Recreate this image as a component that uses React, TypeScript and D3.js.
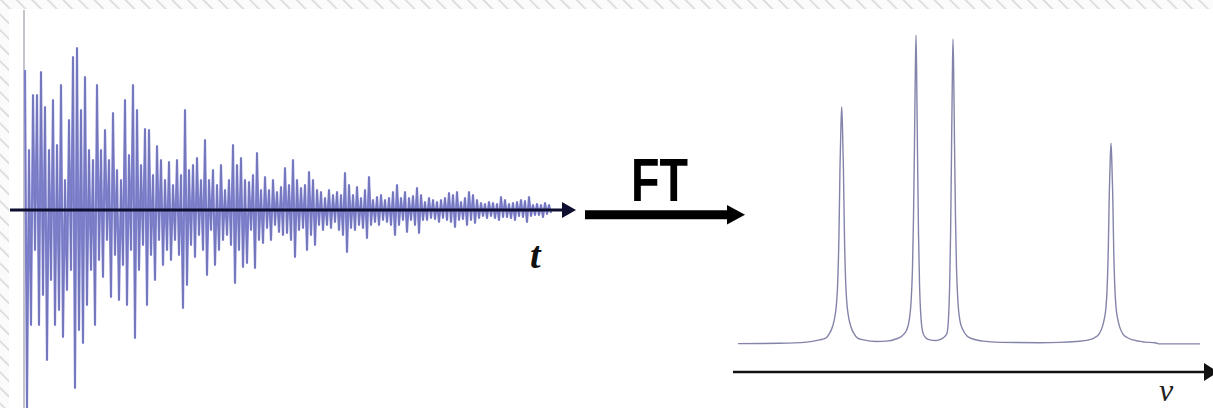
import * as d3 from "d3";

// FID: alternating local extrema (arbitrary amplitude units), read left to right
const fidValues = [
  140, -198, 60, -115, 115, -40, 115, -115, 138, -85,
  103, -150, 60, -70, 110, -115, 65, -100, 125, -127,
  30, -80, 90, -60, 153, -178, 162, -120, 100, -133,
  133, -95, 60, -60, 50, -115, 125, -50, 60, -67,
  80, -30, 50, -87, 97, -45, 40, -90, 30, -55,
  110, -95, 55, -40, 125, -128, 100, -60, 45, -35,
  81, -95, 80, -45, 35, -70, 64, -30, 50, -55,
  30, -40, 48, -50, 25, -30, 50, -45, 35, -98,
  100, -75, 40, -35, 45, -47, 52, -25, 30, -40,
  70, -65, 30, -20, 40, -55, 25, -40, 45, -30,
  20, -25, 30, -35, 65, -73, 45, -40, 52, -57,
  30, -53, 28, -20, 35, -58, 57, -30, 20, -33,
  33, -18, 20, -30, 30, -15, 18, -22, 23, -25,
  42, -23, 25, -30, 50, -47, 30, -20, 22, -18,
  25, -40, 38, -25, 30, -35, 20, -15, 18, -20,
  12, -15, 20, -18, 15, -12, 18, -20, 15, -25,
  37, -42, 25, -18, 15, -20, 23, -15, 12, -18,
  20, -28, 33, -15, 10, -12, 13, -15, 15, -10,
  10, -12, 12, -15, 18, -25, 25, -15, 12, -10,
  18, -22, 12, -10, 14, -15, 22, -23, 15, -10,
  8, -10, 12, -8, 10, -9, 8, -12, 10, -8,
  12, -10, 17, -12, 15, -17, 18, -10, 8, -9,
  12, -15, 18, -10, 15, -13, 10, -8, 7, -6,
  6, -8, 8, -6, 7, -8, 6, -10, 13, -7,
  10, -7, 6, -8, 7, -10, 8, -6, 10, -7,
  9, -12, 13, -6, 5, -5, 6, -5, 5, -7,
  7, -4, 5, -3,
];

// spectrum trace: frequency (Hz) and intensity (% of tallest peak)
const specFreq = [
  0, 42, 68.7, 81.7, 87.7, 91.7, 94.7, 97, 98.7, 99.7, 101, 102, 102.9, 103.7,
  104.5, 105.4, 106.4, 107.7, 108.7, 110.4, 112.7, 115.7, 119.7, 125.7, 138.7,
  148, 158, 164, 168.7, 171.5, 173, 174.5, 175.5, 176.5, 177.3, 178,
  178.7, 179.5, 180.5, 181.5, 183, 185, 188, 192, 197,
  201, 205, 209, 210.5, 211.7, 212.6, 213.5, 214.3, 215,
  215.7, 216.5, 217.5, 218.5, 220, 222, 225, 229, 235, 245,
  262, 302, 322, 338, 351, 357, 361, 364, 366.3, 368, 369, 370.3, 371.3, 372.2, 373,
  373.8, 374.7, 375.7, 377, 378, 379.7, 382, 385, 389, 395, 407, 417, 422, 462,
];
const specInt = [
  -0.2, -0.1, 0.3, 1.0, 1.6, 3.2, 5.5, 8.8, 13.6, 19.5, 35.7, 57.1, 69.8, 76.6,
  69.8, 57.1, 35.7, 19.5, 13.6, 8.8, 5.5, 3.2, 1.6, 1.0, 0.5,
  0.6, 1.3, 2.3, 4.2, 8.1, 13, 24.4, 40.6, 64.9, 87.7, 100,
  86, 61.7, 35.7, 19.5, 8.1, 3.2, 1.6, 1.0, 0.8,
  1.0, 1.6, 3.2, 8.1, 19.5, 35.7, 61.7, 85, 98.7,
  87.7, 64.9, 40.6, 24.4, 13, 7.1, 4.2, 2.3, 1.3, 0.6,
  0.2, 0.1, 0.2, 0.5, 1.0, 1.8, 2.9, 4.9, 7.8, 11.7, 16.9, 30.5, 48.7, 59.1, 64.9,
  59.1, 48.7, 30.5, 16.9, 11.7, 7.8, 4.9, 2.9, 1.8, 1.0, 0.3, 0.1, -0.3, -0.3,
];

const W = 1213;
const H = 408;

export default function App() {
  // FID panel
  const tx = d3.scaleLinear().domain([0, fidValues.length - 1]).range([25, 551]);
  const ay = d3.scaleLinear().domain([-200, 200]).range([410, 10]);
  const fidPath = d3.line<number>().x((_, i) => tx(i)).y((d) => ay(d))(fidValues) ?? "";
  const axisY = ay(0);

  // spectrum panel
  const sx = d3.scaleLinear().domain([0, 462]).range([738, 1200]);
  const sy = d3.scaleLinear().domain([0, 100]).range([343, 35]);
  const specPts = specFreq.map((f, i) => [f, specInt[i]] as [number, number]);
  const specPath = d3.line().x((d) => sx(d[0])).y((d) => sy(d[1])).curve(d3.curveMonotoneX)(specPts) ?? "";
  const specAxisY = 372;

  return (
    <svg width={W} height={H} style={{ position: "absolute", left: 0, top: 0, display: "block", background: "#fff" }}>
      <defs>
        <pattern id="hatch" width="11" height="11" patternUnits="userSpaceOnUse" patternTransform="rotate(-45)">
          <rect width="11" height="11" fill="#fbfbfb" />
          <line x1="0" y1="0" x2="0" y2="11" stroke="#d6d6d6" strokeWidth="3" />
        </pattern>
      </defs>
      <rect x={0} y={0} width={W} height={9} fill="url(#hatch)" />
      <rect x={0} y={0} width={9} height={H} fill="url(#hatch)" />

      {/* FID y axis (faint) */}
      <line x1={24} x2={24} y1={10} y2={H} stroke="#c4c4cc" strokeWidth={2} />

      {/* FID signal: light blue body with darker cores */}
      <path d={fidPath} fill="none" stroke="#8587d8" strokeWidth={2.2} strokeLinejoin="round" />
      <path d={fidPath} fill="none" stroke="#66679f" strokeWidth={0.7} strokeOpacity={0.75} strokeLinejoin="round" />

      {/* time axis */}
      <line x1={10} x2={564} y1={axisY} y2={axisY} stroke="#0e0e30" strokeWidth={2.8} />
      <path d={`M562,${axisY - 8}L576,${axisY}L562,${axisY + 8}Z`} fill="#0e0e30" />
      <text x={530} y={268} fontFamily="'Liberation Serif', serif" fontStyle="italic" fontWeight="bold" fontSize={38} fill="#111">
        t
      </text>

      {/* FT arrow */}
      <line x1={585} x2={728} y1={214.7} y2={214.7} stroke="#000" strokeWidth={9} />
      <path d="M727,205L745,214.7L727,224.4Z" fill="#000" />
      <text
        x={631}
        y={201}
        fontFamily="'Liberation Sans', Arial, sans-serif"
        fontWeight="bold"
        fontSize={61}
        textLength={57}
        lengthAdjust="spacingAndGlyphs"
        fill="#000"
      >
        FT
      </text>

      {/* spectrum */}
      <path d={specPath} fill="none" stroke="#8484aa" strokeWidth={1.4} />

      {/* frequency axis */}
      <line x1={733} x2={1206} y1={specAxisY} y2={specAxisY} stroke="#111" strokeWidth={2.5} />
      <path d={`M1204,${specAxisY - 9}L1218,${specAxisY}L1204,${specAxisY + 9}Z`} fill="#111" />
      <text x={1159} y={401} fontFamily="'Liberation Serif', serif" fontStyle="italic" fontSize={32} fill="#222">
        ν
      </text>
    </svg>
  );
}
